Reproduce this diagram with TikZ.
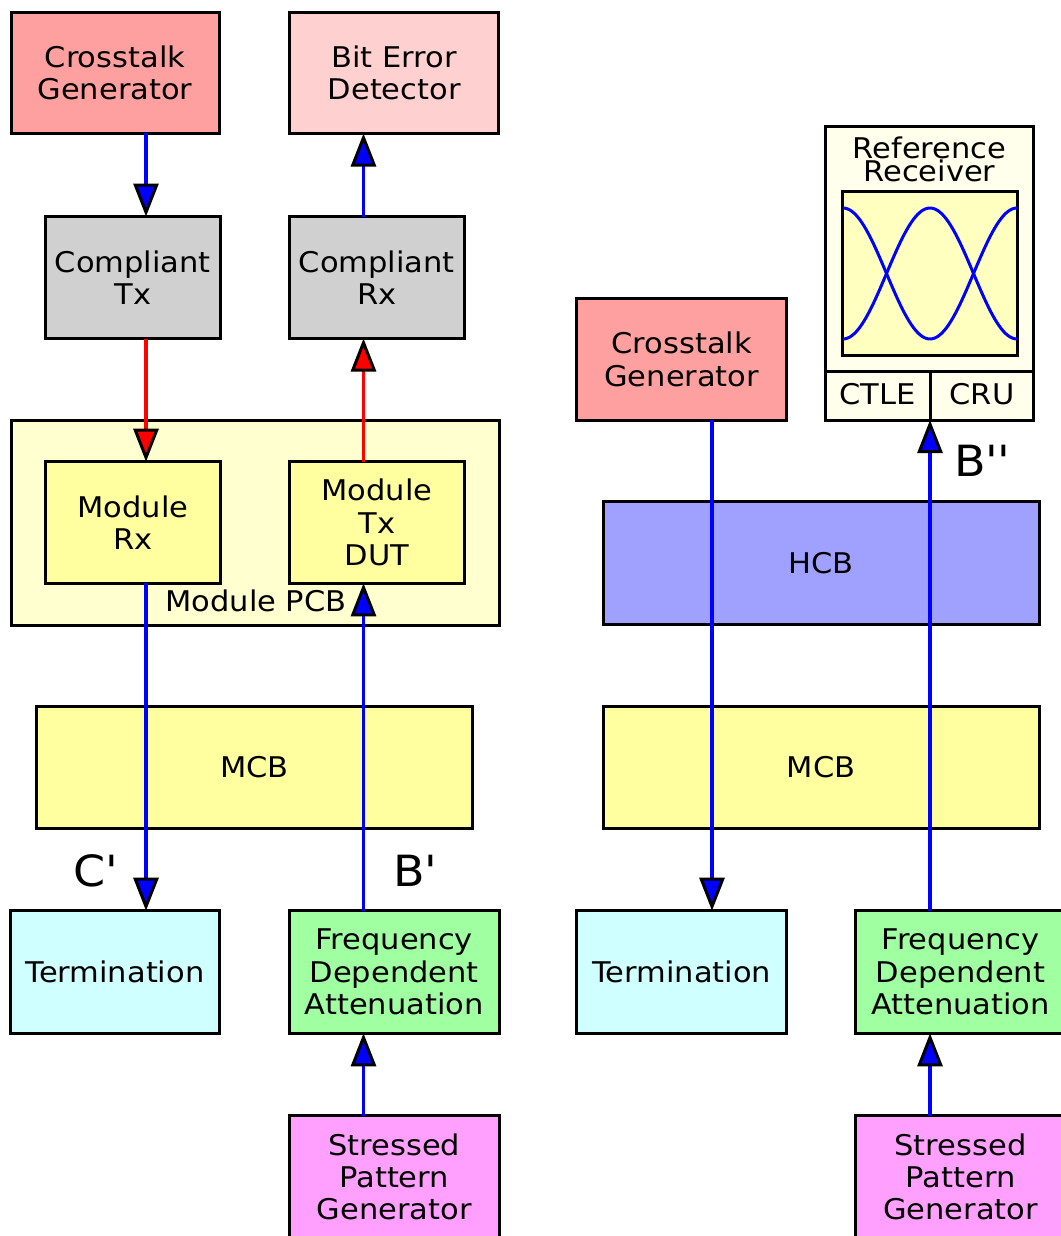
\documentclass[tikz,border=0pt]{standalone}
\usepackage{fontspec}
\setmainfont{DejaVu Sans}[FakeStretch=1.07]
\usetikzlibrary{arrows.meta}

\definecolor{xtalkfill}{HTML}{FFA0A0}
\definecolor{berfill}{HTML}{FFD0D0}
\definecolor{compfill}{HTML}{D0D0D0}
\definecolor{pcbfill}{HTML}{FFFFD0}
\definecolor{modfill}{HTML}{FFFFA0}
\definecolor{hcbfill}{HTML}{A0A0FF}
\definecolor{termfill}{HTML}{D0FFFF}
\definecolor{fdafill}{HTML}{A0FFA0}
\definecolor{spgfill}{HTML}{FFA0FF}
\definecolor{rrfill}{HTML}{FFFFEC}
\definecolor{eyefill}{HTML}{FFFFC0}
\definecolor{sigblue}{HTML}{0000FF}
\definecolor{sigred}{HTML}{FF0000}

\newcommand\boxfont{\fontsize{28.5}{32.4}\selectfont}
\newcommand\tagfont{\fontsize{43}{46}\selectfont}

\begin{document}
\begin{tikzpicture}[x=1pt,y=-1pt,
  blk/.style={draw, line width=3pt, rectangle, inner sep=0pt, outer sep=0pt,
    align=center, font=\boxfont},
  wh/.style 2 args={minimum width=#1pt, minimum height=#2pt},
  lbl/.style={inner sep=0pt, font=\boxfont, align=center},
  tag/.style={inner sep=0pt, font=\tagfont},
  link/.style={draw=#1, line width=3.2pt,
    -{Triangle[length=33pt,width=25pt,fill=#1,color=black,line width=3pt]}},
]
\useasboundingbox (0,0) rectangle (1060,1236);

% signal columns
\coordinate (colA) at (146,0);
\coordinate (colB) at (363.5,0);
\coordinate (colC) at (712,0);
\coordinate (colD) at (930,0);

% ---------- left setup ----------
\node[blk, wh={208}{121}, fill=xtalkfill] (xtalkL) at (115,73) {Crosstalk\\Generator};
\node[blk, wh={209.5}{121}, fill=berfill] (bed) at (394.2,73) {Bit Error\\Detector};
\node[blk, wh={174.3}{122}, fill=compfill] (ctx) at (132.9,277.5) {Compliant\\Tx};
\node[blk, wh={175}{122}, fill=compfill] (crx) at (376.8,277.5) {Compliant\\Rx};
\node[blk, wh={488}{204.3}, fill=pcbfill] (pcb) at (255,522.9) {};
\node[lbl] (pcblabel) at (256,601) {Module PCB};
\node[blk, wh={174.3}{121.6}, fill=modfill] (mrx) at (132.9,522.5) {Module\\Rx};
\node[blk, wh={175}{121.6}, fill=modfill] (mtx) at (376.8,522.5) {Module\\Tx\\DUT};
\node[blk, wh={435.6}{121.6}, fill=modfill] (mcbL) at (254.5,767.5) {MCB};
\node[blk, wh={208.6}{122.6}, fill=termfill] (termL) at (115,972) {Termination};
\node[blk, wh={209.7}{122.6}, fill=fdafill] (fdaL) at (394.2,972) {Frequency\\Dependent\\Attenuation};
\node[blk, wh={209.7}{122.3}, fill=spgfill] (spgL) at (394.2,1176.9) {Stressed\\Pattern\\Generator};

% ---------- right setup ----------
\node[blk, wh={210}{121.7}, fill=xtalkfill] (xtalkR) at (681.7,359.2) {Crosstalk\\Generator};
\node[blk, wh={208.3}{293.3}, fill=rrfill] (rr) at (929.2,273.4) {};
\node[lbl, font=\fontsize{28.5}{21}\selectfont] (rrtitle) at (929.5,159.5) {Reference\\Receiver};
\node[blk, wh={175}{163.3}, fill=eyefill] (eye) at (930.2,273.4) {};
\coordinate (split) at (930,371.7);
\draw[line width=3pt] (rr.west |- split) -- (rr.east |- split);
\draw[line width=3pt] (split) -- (split |- rr.south);
\node[lbl] (ctle) at (877.5,394) {CTLE};
\node[lbl] (cru) at (982,394) {CRU};
% eye diagram traces
\draw[sigblue, line width=3pt] plot[domain=0:174, samples=80]
  ({843+\x}, {273.5-65.5*cos(2.068966*\x)});
\draw[sigblue, line width=3pt] plot[domain=0:174, samples=80]
  ({843+\x}, {273.5+65.5*cos(2.068966*\x)});
\node[blk, wh={435.7}{122.6}, fill=hcbfill] (hcb) at (821.2,563) {HCB};
\node[blk, wh={435.7}{121.6}, fill=modfill] (mcbR) at (821.2,767.5) {MCB};
\node[blk, wh={210}{122.6}, fill=termfill] (termR) at (681.7,972) {Termination};
\node[blk, wh={209.7}{122.6}, fill=fdafill] (fdaR) at (960.5,972) {Frequency\\Dependent\\Attenuation};
\node[blk, wh={209.7}{122.3}, fill=spgfill] (spgR) at (960.5,1176.9) {Stressed\\Pattern\\Generator};

% ---------- connectors ----------
\draw[link=sigblue] (xtalkL.south -| colA) -- (ctx.north -| colA);
\draw[link=sigred] (ctx.south -| colA) -- (mrx.north -| colA);
\draw[link=sigblue] (mrx.south -| colA) -- (termL.north -| colA);
\draw[link=sigblue] (crx.north -| colB) -- (bed.south -| colB);
\draw[link=sigred] (mtx.north -| colB) -- (crx.south -| colB);
\draw[link=sigblue] (fdaL.north -| colB) -- (mtx.south -| colB);
\draw[link=sigblue] (spgL.north -| colB) -- (fdaL.south -| colB);

\draw[link=sigblue] (xtalkR.south -| colC) -- (termR.north -| colC);
\draw[link=sigblue] (fdaR.north -| colD) -- (rr.south -| colD);
\draw[link=sigblue] (spgR.north -| colD) -- (fdaR.south -| colD);

% measurement points
\node[tag] (cprime) at (95,871) {C\textquotesingle};
\node[tag] (bprime) at (415,871) {B\textquotesingle};
\node[tag] (bdprime) at (982,461) {B\textquotesingle\textquotesingle};
\end{tikzpicture}
\end{document}
